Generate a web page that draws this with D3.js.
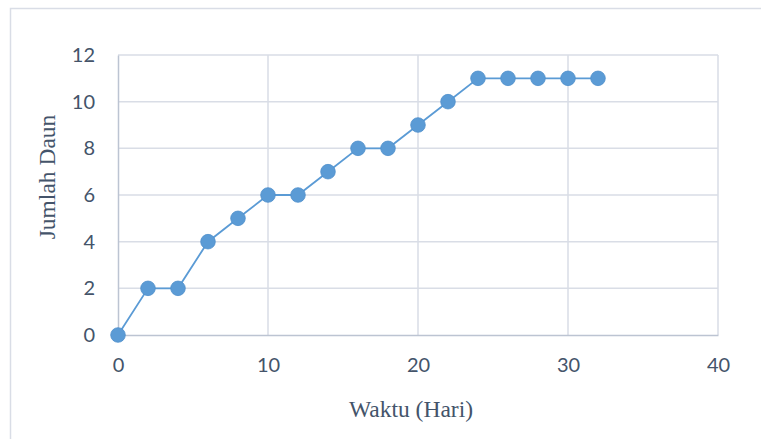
<!DOCTYPE html>
<html>
<head>
<meta charset="utf-8">
<script src="https://cdn.jsdelivr.net/npm/d3@7"></script>
<style>
  html, body { margin: 0; padding: 0; background: #fff; }
  svg { display: block; }
</style>
</head>
<body>
<svg id="chart" width="761" height="439"></svg>
<script>
// Leaf count observed every two days
const days = [0, 2, 4, 6, 8, 10, 12, 14, 16, 18, 20, 22, 24, 26, 28, 30, 32];
const leaves = [0, 2, 2, 4, 5, 6, 6, 7, 8, 8, 9, 10, 11, 11, 11, 11, 11];
const xTicks = [0, 10, 20, 30, 40];
const yTicks = [0, 2, 4, 6, 8, 10, 12];
const xTitle = "Waktu (Hari)";
const yTitle = "Jumlah Daun";

const svg = d3.select("#chart");
const W = 761, H = 439;
const plot = { left: 118, right: 718, top: 55, bottom: 335 };

const textColor = "#44546a";
const gridColor = "#d9dde6";
const axisColor = "#bcc4d2";
const seriesColor = "#5b9bd5";

// Chart-area frame (runs off the right and bottom edges)
svg.append("rect")
  .attr("x", 10.5).attr("y", 8.5)
  .attr("width", W).attr("height", H)
  .attr("fill", "#fff")
  .attr("stroke", gridColor).attr("stroke-width", 1.5);

const x = d3.scaleLinear().domain([0, 40]).range([plot.left, plot.right]);
const y = d3.scaleLinear().domain([0, 12]).range([plot.bottom, plot.top]);

// Gridlines
const grid = svg.append("g");
grid.selectAll("line.h").data(yTicks.filter(d => d > 0)).join("line")
  .attr("x1", plot.left).attr("x2", plot.right)
  .attr("y1", d => y(d)).attr("y2", d => y(d))
  .attr("stroke", gridColor).attr("stroke-width", 1.5);
grid.selectAll("line.v").data(xTicks.filter(d => d > 0)).join("line")
  .attr("y1", plot.top).attr("y2", plot.bottom)
  .attr("x1", d => x(d)).attr("x2", d => x(d))
  .attr("stroke", gridColor).attr("stroke-width", 1.5);

// Axes
const xAxis = svg.append("g")
  .attr("transform", `translate(0,${plot.bottom})`)
  .call(d3.axisBottom(x).tickValues(xTicks).tickSize(0).tickPadding(23).tickFormat(d3.format("d")));
const yAxis = svg.append("g")
  .attr("transform", `translate(${plot.left},0)`)
  .call(d3.axisLeft(y).tickValues(yTicks).tickSize(0).tickPadding(23).tickFormat(d3.format("d")));

[xAxis, yAxis].forEach(a => {
  a.select(".domain").attr("stroke", axisColor).attr("stroke-width", 1.5);
  a.selectAll("text")
    .attr("fill", textColor)
    .style("font-family", "Lato, 'Open Sans', sans-serif")
    .style("font-size", "20px");
});

// Series line and markers
const line = d3.line().x((d, i) => x(days[i])).y(d => y(d));
svg.append("path")
  .datum(leaves)
  .attr("d", line)
  .attr("fill", "none")
  .attr("stroke", seriesColor)
  .attr("stroke-width", 1.8);

svg.append("g").selectAll("circle").data(leaves).join("circle")
  .attr("cx", (d, i) => x(days[i]))
  .attr("cy", d => y(d))
  .attr("r", 7.3)
  .attr("fill", seriesColor)
  .attr("stroke", "#4f8fcb")
  .attr("stroke-width", 0.8);

// Axis titles
svg.append("text")
  .attr("x", 411).attr("y", 417)
  .attr("text-anchor", "middle")
  .attr("fill", textColor)
  .style("font-family", "'Liberation Serif', 'Times New Roman', serif")
  .style("font-size", "23.5px")
  .text(xTitle);

svg.append("text")
  .attr("transform", "translate(55,177) rotate(-90)")
  .attr("text-anchor", "middle")
  .attr("fill", textColor)
  .style("font-family", "'Liberation Serif', 'Times New Roman', serif")
  .style("font-size", "23.5px")
  .text(yTitle);
</script>
</body>
</html>
